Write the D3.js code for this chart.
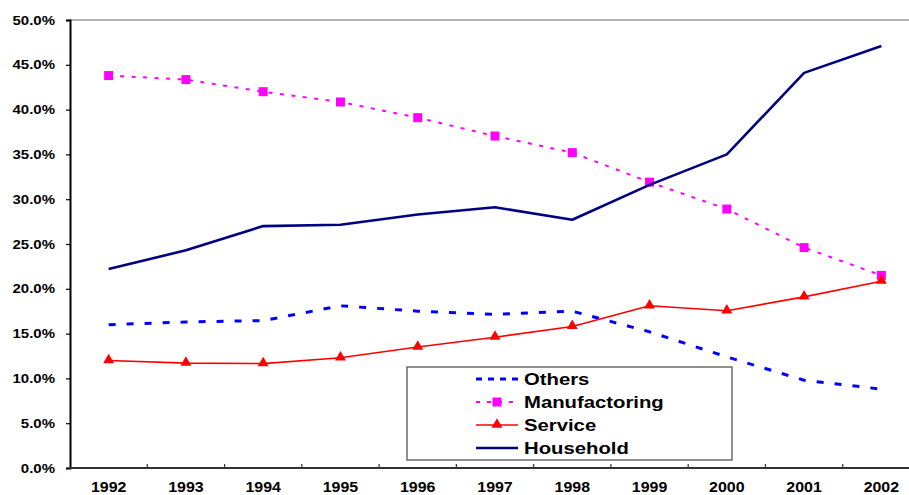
<!DOCTYPE html>
<html>
<head>
<meta charset="utf-8">
<script src="https://cdn.jsdelivr.net/npm/d3@7"></script>
<style>
  html, body { margin: 0; padding: 0; background: #fff; }
  svg text { font-family: "Liberation Sans", Arial, sans-serif; font-weight: bold; fill: #000; }
</style>
</head>
<body>
<svg id="chart" width="909" height="495"></svg>
<script>
// Share of each sector by year (percent)
const years = ["1992","1993","1994","1995","1996","1997","1998","1999","2000","2001","2002"];
const others        = [16.0, 16.3, 16.45, 18.1, 17.5, 17.15, 17.5, 15.2, 12.4, 9.8, 8.8];
const manufactoring = [43.8, 43.35, 42.0, 40.85, 39.1, 37.05, 35.2, 31.9, 28.9, 24.6, 21.5];
const service       = [12.0, 11.7, 11.65, 12.3, 13.5, 14.6, 15.8, 18.1, 17.55, 19.1, 20.85];
const household     = [22.2, 24.3, 27.0, 27.15, 28.3, 29.1, 27.7, 31.6, 35.0, 44.1, 47.1];
const yTicks = [0, 5, 10, 15, 20, 25, 30, 35, 40, 45, 50];
const seriesNames = ["Others", "Manufactoring", "Service", "Household"];

const series = [
  { name: seriesNames[0], values: others,        color: "#0000FF", width: 3,   dash: "7,11",  legendDash: "6,6", marker: null },
  { name: seriesNames[1], values: manufactoring, color: "#FF00FF", width: 2,   dash: "4,7.5", legendDash: "4,7", marker: "square" },
  { name: seriesNames[2], values: service,       color: "#FF0000", width: 1.6, dash: null,    legendDash: null,  marker: "triangle" },
  { name: seriesNames[3], values: household,     color: "#000080", width: 2.6, dash: null,    legendDash: null,  marker: null }
];

const svg = d3.select("#chart");
const plotLeft = 70, plotRight = 920, plotTop = 20, plotBottom = 468;
const textStretch = 1.2; // the fonts are set slightly wide

const x = d3.scaleBand().domain(years).range([plotLeft, plotRight]);
const y = d3.scaleLinear().domain([0, 50]).range([plotBottom, plotTop]);

// top frame line
svg.append("line")
  .attr("x1", plotLeft).attr("x2", 909).attr("y1", plotTop).attr("y2", plotTop)
  .attr("stroke", "#999").attr("stroke-width", 1.5);

// y axis
const yAxis = svg.append("g").attr("transform", `translate(${plotLeft},0)`)
  .call(d3.axisLeft(y).tickValues(yTicks).tickSize(4).tickPadding(12)
    .tickFormat(d => d3.format(".1f")(d) + "%"));
yAxis.select(".domain").attr("stroke", "#000").attr("stroke-width", 2);
yAxis.selectAll(".tick line").attr("stroke", "#000").attr("stroke-width", 1.2);
yAxis.selectAll("text")
  .style("font-size", "12.5px").attr("fill", "#000")
  .attr("x", 0)
  .attr("transform", `translate(-15,0) scale(${textStretch},1)`);

// x axis: labels centred on the bands, ticks between bands pointing inward
svg.append("line")
  .attr("x1", plotLeft - 1).attr("x2", 909).attr("y1", plotBottom).attr("y2", plotBottom)
  .attr("stroke", "#333").attr("stroke-width", 2);
svg.append("g").selectAll("line")
  .data(years.slice(1))
  .join("line")
  .attr("x1", d => x(d)).attr("x2", d => x(d))
  .attr("y1", plotBottom).attr("y2", plotBottom - 4)
  .attr("stroke", "#333").attr("stroke-width", 1.2);
svg.append("g").selectAll("text")
  .data(years)
  .join("text")
  .attr("transform", d => `translate(${x(d) + x.bandwidth() / 2},492) scale(1.1,1)`)
  .attr("text-anchor", "middle")
  .style("font-size", "14.5px")
  .text(d => d);

const line = d3.line()
  .x((d, i) => x(years[i]) + x.bandwidth() / 2)
  .y(d => y(d));

const triangle = d3.symbol().type(d3.symbolTriangle).size(52);

function drawMarkers(g, s, cx, cy) {
  if (s.marker === "square") {
    g.append("rect").attr("x", cx - 4.5).attr("y", cy - 4.5)
      .attr("width", 9).attr("height", 9).attr("fill", s.color);
  } else if (s.marker === "triangle") {
    g.append("path").attr("d", triangle())
      .attr("transform", `translate(${cx},${cy - 0.5})`).attr("fill", s.color);
  }
}

series.forEach(s => {
  const g = svg.append("g");
  g.append("path")
    .datum(s.values)
    .attr("d", line)
    .attr("fill", "none")
    .attr("stroke", s.color)
    .attr("stroke-width", s.width)
    .attr("stroke-dasharray", s.dash)
    .attr("stroke-linejoin", "round");
  s.values.forEach((v, i) => drawMarkers(g, s, x(years[i]) + x.bandwidth() / 2, y(v)));
});

// legend
const lg = svg.append("g").attr("transform", "translate(407,367)");
lg.append("rect").attr("x", 0).attr("y", 0).attr("width", 325).attr("height", 93)
  .attr("fill", "#fff").attr("stroke", "#555").attr("stroke-width", 1.3);
series.forEach((s, i) => {
  const ly = 12 + i * 23;
  lg.append("line").attr("x1", 69).attr("x2", 111).attr("y1", ly).attr("y2", ly)
    .attr("stroke", s.color).attr("stroke-width", s.width)
    .attr("stroke-dasharray", s.legendDash);
  drawMarkers(lg, s, 90, ly);
  lg.append("text")
    .attr("transform", `translate(117,${ly + 6}) scale(${textStretch + 0.03},1)`)
    .style("font-size", "16.5px")
    .text(s.name);
});
</script>
</body>
</html>
